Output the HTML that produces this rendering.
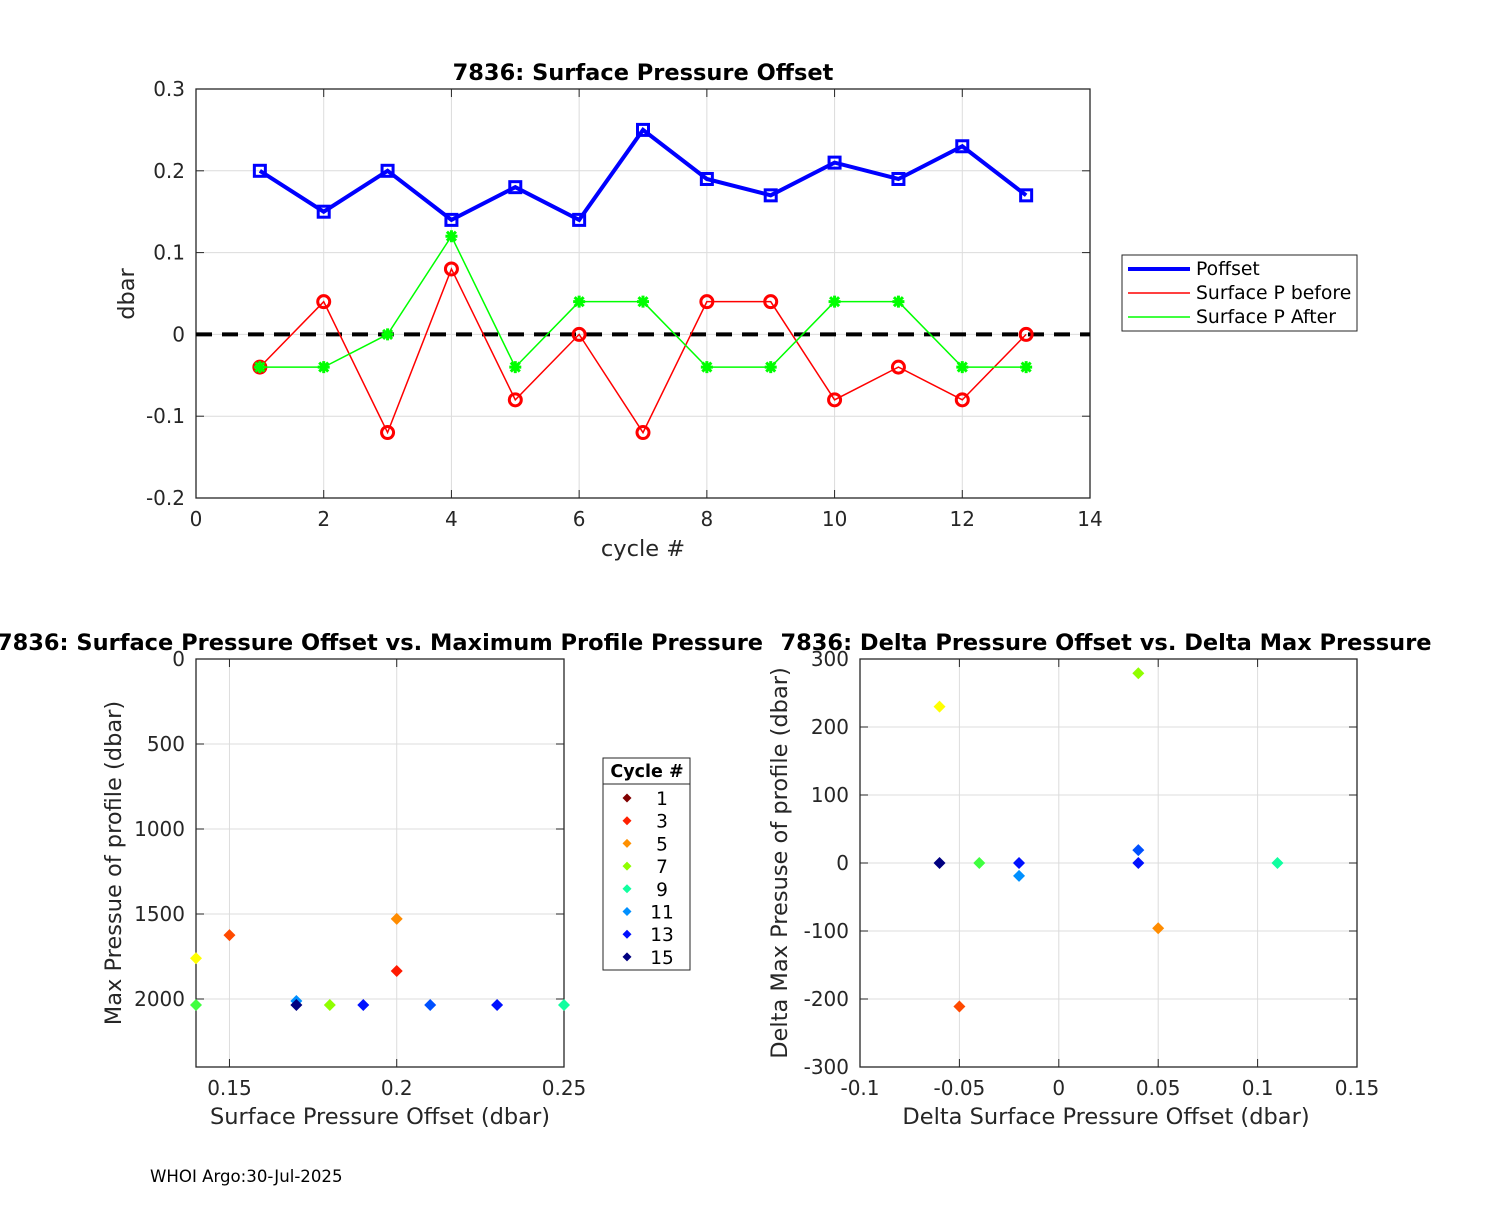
<!DOCTYPE html>
<html><head><meta charset="utf-8"><style>
body{margin:0;background:#fff}
svg{font-family:"DejaVu Sans","Liberation Sans",sans-serif}
</style></head><body>
<svg id="s" width="1500" height="1200" xmlns="http://www.w3.org/2000/svg"></svg>
<script>
const cycles=[1,2,3,4,5,6,7,8,9,10,11,12,13];
const poffset=[0.2,0.15,0.2,0.14,0.18,0.14,0.25,0.19,0.17,0.21,0.19,0.23,0.17];
const pBefore=[-0.04,0.04,-0.12,0.08,-0.08,0,-0.12,0.04,0.04,-0.08,-0.04,-0.08,0];
const pAfter=[-0.04,-0.04,0,0.12,-0.04,0.04,0.04,-0.04,-0.04,0.04,0.04,-0.04,-0.04];
const topXTicks=[0,2,4,6,8,10,12,14];
const topYTicks=[-0.2,-0.1,0,0.1,0.2,0.3];
const sc1X=[0.2,0.15,0.2,0.14,0.14,0.17,0.17,0.18,0.19,0.21,0.23,0.25];
const sc1Y=[1835,1624,1529,1760,2035,2012,2035,2035,2035,2035,2035,2035];
const sc1C=["#ff1a00","#ff4a00","#ff8c00","#ffff00","#40ff40","#0090ff","#000080","#90ff00","#0010ff","#0050ff","#0010ff","#10ffa0"];
const bxTicks=[0.15,0.2,0.25];
const byTicks=[0,500,1000,1500,2000];
const sc2X=[-0.06,0.04,-0.06,-0.04,-0.02,-0.02,0.04,0.04,0.11,0.05,-0.05];
const sc2Y=[230,279,0,0,0,-19,19,0,0,-96,-211];
const sc2C=["#ffff00","#90ff00","#000080","#40ff40","#0010ff","#0090ff","#0050ff","#0010ff","#10ffa0","#ff8c00","#ff4a00"];
const rxTicks=[-0.1,-0.05,0,0.05,0.1,0.15];
const ryTicks=[-300,-200,-100,0,100,200,300];
const legCycles=["1","3","5","7","9","11","13","15"];
const legColors=["#800000","#ff2000","#ff9000","#90ff00","#10ffa0","#0090ff","#0010ff","#000080"];

const S=document.getElementById('s');const NS="http://www.w3.org/2000/svg";
function mk(t,a,p,txt){const e=document.createElementNS(NS,t);for(const k in a)e.setAttribute(k,a[k]);if(txt!==undefined)e.textContent=txt;(p||S).appendChild(e);return e;}
function fmt(v){return String(Math.round(v*1000)/1000);}
function axes(name,x0,x1,y0,y1,xd,yd,xt,yt,rev){
  const g=mk('g',{});
  
  
  const fx=v=>x0+(v-xd[0])/(xd[1]-xd[0])*(x1-x0);
  const fy=rev?(v=>y0+(v-yd[0])/(yd[1]-yd[0])*(y1-y0)):(v=>y1-(v-yd[0])/(yd[1]-yd[0])*(y1-y0));
  mk('rect',{x:x0,y:y0,width:x1-x0,height:y1-y0,fill:'#fff'},g);
  xt.forEach(v=>{const x=fx(v);mk('line',{x1:x,x2:x,y1:y0,y2:y1,stroke:'#dcdcdc','stroke-width':1},g);
    mk('line',{x1:x,x2:x,y1:y1,y2:y1-8,stroke:'#262626'},g);mk('line',{x1:x,x2:x,y1:y0,y2:y0+8,stroke:'#262626'},g);
    const t=mk('text',{x:x,y:y1+28,'text-anchor':'middle','font-size':20,fill:'#262626'},g,fmt(v));
    });
  yt.forEach(v=>{const y=fy(v);mk('line',{x1:x0,x2:x1,y1:y,y2:y,stroke:'#dcdcdc','stroke-width':1},g);
    mk('line',{x1:x0,x2:x0+8,y1:y,y2:y,stroke:'#262626'},g);mk('line',{x1:x1,x2:x1-8,y1:y,y2:y,stroke:'#262626'},g);
    const t=mk('text',{x:x0-11,y:y+7,'text-anchor':'end','font-size':20,fill:'#262626'},g,fmt(v));
    });
  mk('rect',{x:x0,y:y0,width:x1-x0,height:y1-y0,fill:'none',stroke:'#262626','stroke-width':1.3},g);
  return {g,fx,fy};
}
function text(name,x,y,s,a){const t=mk('text',Object.assign({x:x,y:y,'font-size':22.5,'text-anchor':'middle',fill:'#262626'},a||{}),S,s);
  return t;}

// top chart
const A=axes('top-axes',196,1090,89,498,[0,14],[-0.2,0.3],topXTicks,topYTicks,false);
mk('line',{x1:196,x2:1090,y1:A.fy(0),y2:A.fy(0),stroke:'#000','stroke-width':4,'stroke-dasharray':'16,10'},A.g);
function series(name,vals,col,w,marker){
  const pts=cycles.map((c,i)=>A.fx(c)+','+A.fy(vals[i])).join(' ');
  const l=mk('polyline',{points:pts,fill:'none',stroke:col,'stroke-width':w},A.g);
  
  cycles.forEach((c,i)=>{const x=A.fx(c),y=A.fy(vals[i]);let m;
    if(marker==='sq')m=mk('rect',{x:x-5.5,y:y-5.5,width:11,height:11,fill:'none',stroke:col,'stroke-width':3},A.g);
    else if(marker==='o')m=mk('circle',{cx:x,cy:y,r:6,fill:'none',stroke:col,'stroke-width':3},A.g);
    else m=mk('path',{d:`M${x-6} ${y}H${x+6}M${x} ${y-6}V${y+6}M${x-4.5} ${y-4.5}L${x+4.5} ${y+4.5}M${x-4.5} ${y+4.5}L${x+4.5} ${y-4.5}`,stroke:col,'stroke-width':3},A.g);
    });
}
series('surface-p-before',pBefore,'#ff0000',1.5,'o');
series('surface-p-after',pAfter,'#00ff00',1.5,'x');
series('poffset',poffset,'#0000ff',4,'sq');
text('top-title',643,80,'7836: Surface Pressure Offset',{'font-weight':'bold','fill':'#000','font-size':22.5});
text('top-x-axis-title',643,556,'cycle #');
text('top-y-axis-title',0,0,'dbar',{transform:'translate(134,294) rotate(-90)'});
const lg=mk('g',{});
mk('rect',{x:1122,y:255,width:235,height:76,fill:'#fff',stroke:'#262626'},lg);
[['Poffset','#0000ff',4],['Surface P before','#ff0000',1.5],['Surface P After','#00ff00',1.5]].forEach((e,i)=>{
  const y=269+i*24;mk('line',{x1:1128,x2:1190,y1:y,y2:y,stroke:e[1],'stroke-width':e[2]},lg);
  const t=mk('text',{x:1196,y:y+6,'font-size':18.8,fill:'#000'},lg,e[0]);});

// bottom left
const B=axes('scatter-left-axes',196,564,659,1067,[0.14,0.25],[0,2400],bxTicks,byTicks,true);
sc1X.forEach((v,i)=>{const x=B.fx(v),y=B.fy(sc1Y[i]);const m=mk('path',{d:`M${x} ${y-6}L${x+6} ${y}L${x} ${y+6}L${x-6} ${y}Z`,fill:sc1C[i]},B.g);
  });
text('left-title',380,650,'7836: Surface Pressure Offset vs. Maximum Profile Pressure',{'font-weight':'bold','fill':'#000'});
text('left-x-axis-title',380,1124,'Surface Pressure Offset (dbar)');
text('left-y-axis-title',0,0,'Max Pressue of profile (dbar)',{transform:'translate(121,863) rotate(-90)'});
const cl=mk('g',{});
mk('rect',{x:603,y:758,width:87,height:212,fill:'#fff',stroke:'#262626'},cl);
mk('line',{x1:603,x2:690,y1:784,y2:784,stroke:'#262626'},cl);
mk('text',{x:647,y:777,'font-size':17.5,'font-weight':'bold','text-anchor':'middle',fill:'#000'},cl,'Cycle #');
legCycles.forEach((c,i)=>{const y=798+i*22.7;
  mk('path',{d:`M627 ${y-4.5}L631.5 ${y}L627 ${y+4.5}L622.5 ${y}Z`,fill:legColors[i]},cl);
  const t=mk('text',{x:662,y:y+7,'font-size':18.5,'text-anchor':'middle',fill:'#000'},cl,c);});

// bottom right
const C=axes('scatter-right-axes',860,1357,659,1067,[-0.1,0.15],[-300,300],rxTicks,ryTicks,false);
sc2X.forEach((v,i)=>{const x=C.fx(v),y=C.fy(sc2Y[i]);const m=mk('path',{d:`M${x} ${y-6}L${x+6} ${y}L${x} ${y+6}L${x-6} ${y}Z`,fill:sc2C[i]},C.g);
  });
text('right-title',1106,650,'7836: Delta Pressure Offset vs. Delta Max Pressure',{'font-weight':'bold','fill':'#000'});
text('right-x-axis-title',1106,1124,'Delta Surface Pressure Offset (dbar)');
text('right-y-axis-title',0,0,'Delta Max Presuse of profile (dbar)',{transform:'translate(787,863) rotate(-90)'});
text('footer-note',150,1182,'WHOI Argo:30-Jul-2025',{'font-size':16.6,'text-anchor':'start',fill:'#000'});
</script>
</body></html>
